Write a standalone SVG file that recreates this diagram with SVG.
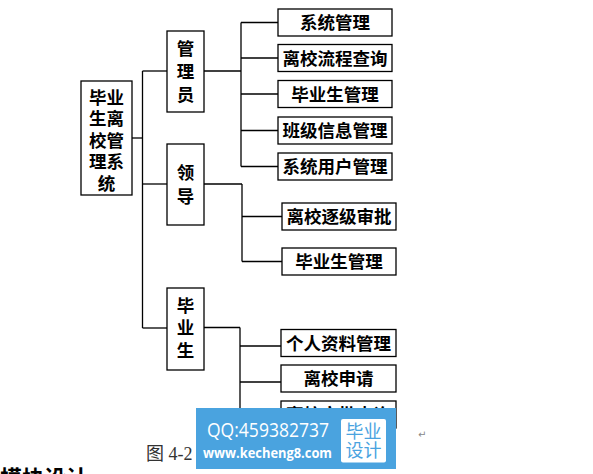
<svg xmlns="http://www.w3.org/2000/svg" width="593" height="474" viewBox="0 0 593 474">
<style>
.box{fill:#fff;stroke:#000;stroke-width:1.3}
.t{font-family:"Noto Sans CJK SC","Noto Sans CJK JP",sans-serif;font-size:17.5px;font-weight:bold;fill:#000;text-anchor:middle}
.c line{stroke:#000;stroke-width:1.3}
</style>
<rect width="593" height="474" fill="#fff"/>
<g class="c" id="connectors">
<line x1="132" y1="138" x2="143" y2="138"/>
<line x1="142.5" y1="71" x2="142.5" y2="328"/>
<line x1="142.5" y1="71" x2="167" y2="71"/>
<line x1="142.5" y1="184" x2="167" y2="184"/>
<line x1="142.5" y1="328" x2="167" y2="328"/>
<line x1="204" y1="71" x2="241" y2="71"/>
<line x1="241" y1="22.5" x2="241" y2="166.5"/>
<line x1="241" y1="22.5" x2="278" y2="22.5"/>
<line x1="241" y1="58" x2="278" y2="58"/>
<line x1="241" y1="94" x2="278" y2="94"/>
<line x1="241" y1="130.5" x2="278" y2="130.5"/>
<line x1="241" y1="166.5" x2="278" y2="166.5"/>
<line x1="204" y1="184" x2="242" y2="184"/>
<line x1="242" y1="184" x2="242" y2="261.5"/>
<line x1="242" y1="216.5" x2="282" y2="216.5"/>
<line x1="242" y1="261.5" x2="282" y2="261.5"/>
<line x1="204" y1="327.5" x2="240" y2="327.5"/>
<line x1="240" y1="327.5" x2="240" y2="418"/>
<line x1="240" y1="346" x2="281" y2="346"/>
<line x1="240" y1="382" x2="281" y2="382"/>
<line x1="240" y1="416" x2="281" y2="416"/>
</g>
<g id="root"><rect class="box" x="81" y="81" width="51" height="114"/>
<text class="t" x="106.5" y="103.5">毕业</text><text class="t" x="106.5" y="125">生离</text><text class="t" x="106.5" y="146.5">校管</text><text class="t" x="106.5" y="168">理系</text><text class="t" x="106.5" y="189.5">统</text></g>
<g id="admin"><rect class="box" x="167" y="31" width="37" height="81"/>
<text class="t" x="185.5" y="54.6">管</text><text class="t" x="185.5" y="77.6">理</text><text class="t" x="185.5" y="100.6">员</text></g>
<g id="leader"><rect class="box" x="167" y="144" width="37" height="81"/>
<text class="t" x="185.5" y="178.8">领</text><text class="t" x="185.5" y="202.8">导</text></g>
<g id="student"><rect class="box" x="167" y="288" width="37" height="82"/>
<text class="t" x="185.5" y="311.6">毕</text><text class="t" x="185.5" y="333.6">业</text><text class="t" x="185.5" y="356.6">生</text></g>
<g id="a1"><rect class="box" x="278" y="9" width="114" height="27"/><text class="t" x="335" y="29">系统管理</text></g>
<g id="a2"><rect class="box" x="278" y="44.5" width="114" height="27"/><text class="t" x="335" y="64.6">离校流程查询</text></g>
<g id="a3"><rect class="box" x="278" y="80.5" width="114" height="27"/><text class="t" x="335" y="100.6">毕业生管理</text></g>
<g id="a4"><rect class="box" x="278" y="117" width="114" height="27"/><text class="t" x="335" y="137.1">班级信息管理</text></g>
<g id="a5"><rect class="box" x="278" y="153" width="114" height="27"/><text class="t" x="335" y="173.1">系统用户管理</text></g>
<g id="l1"><rect class="box" x="282" y="203" width="114" height="27"/><text class="t" x="339" y="223.1">离校逐级审批</text></g>
<g id="l2"><rect class="box" x="282" y="248" width="114" height="27"/><text class="t" x="339" y="268.1">毕业生管理</text></g>
<g id="s1"><rect class="box" x="281" y="329.5" width="115" height="27"/><text class="t" x="338.5" y="349.6">个人资料管理</text></g>
<g id="s2"><rect class="box" x="281" y="365" width="115" height="27"/><text class="t" x="338.5" y="385.1">离校申请</text></g>
<g id="s3"><rect class="box" x="281" y="401" width="115" height="27"/><text class="t" x="338.5" y="421.1">离校审批查询</text></g>
<text x="146" y="460" font-family="'Liberation Serif','Noto Sans CJK SC',serif" font-size="18" fill="#333">图 4-2</text>
<text x="0" y="486" font-family="'Noto Sans CJK SC',sans-serif" font-size="22" font-weight="bold" fill="#000">模块设计</text>
<text x="418" y="438" font-family="'DejaVu Sans',sans-serif" font-size="10" fill="#888">↵</text>
<g id="watermark">
<rect x="196" y="408" width="200" height="61" fill="#4aa3df"/>
<text x="207" y="437" font-family="'Open Sans','Noto Sans CJK SC',sans-serif" font-size="20" fill="#fff" textLength="122" lengthAdjust="spacingAndGlyphs">QQ:459382737</text>
<text x="203" y="458" font-family="'Open Sans',sans-serif" font-size="15" font-weight="bold" fill="#fff" textLength="129" lengthAdjust="spacingAndGlyphs">www.kecheng8.com</text>
<rect x="341" y="419" width="45" height="43.5" rx="2" fill="#fff"/>
<text x="363.5" y="437.5" font-family="'Noto Sans CJK SC',sans-serif" font-size="18" fill="#4aa3df" text-anchor="middle">毕业</text>
<text x="363.5" y="456.5" font-family="'Noto Sans CJK SC',sans-serif" font-size="18" fill="#4aa3df" text-anchor="middle">设计</text>
</g>
</svg>
